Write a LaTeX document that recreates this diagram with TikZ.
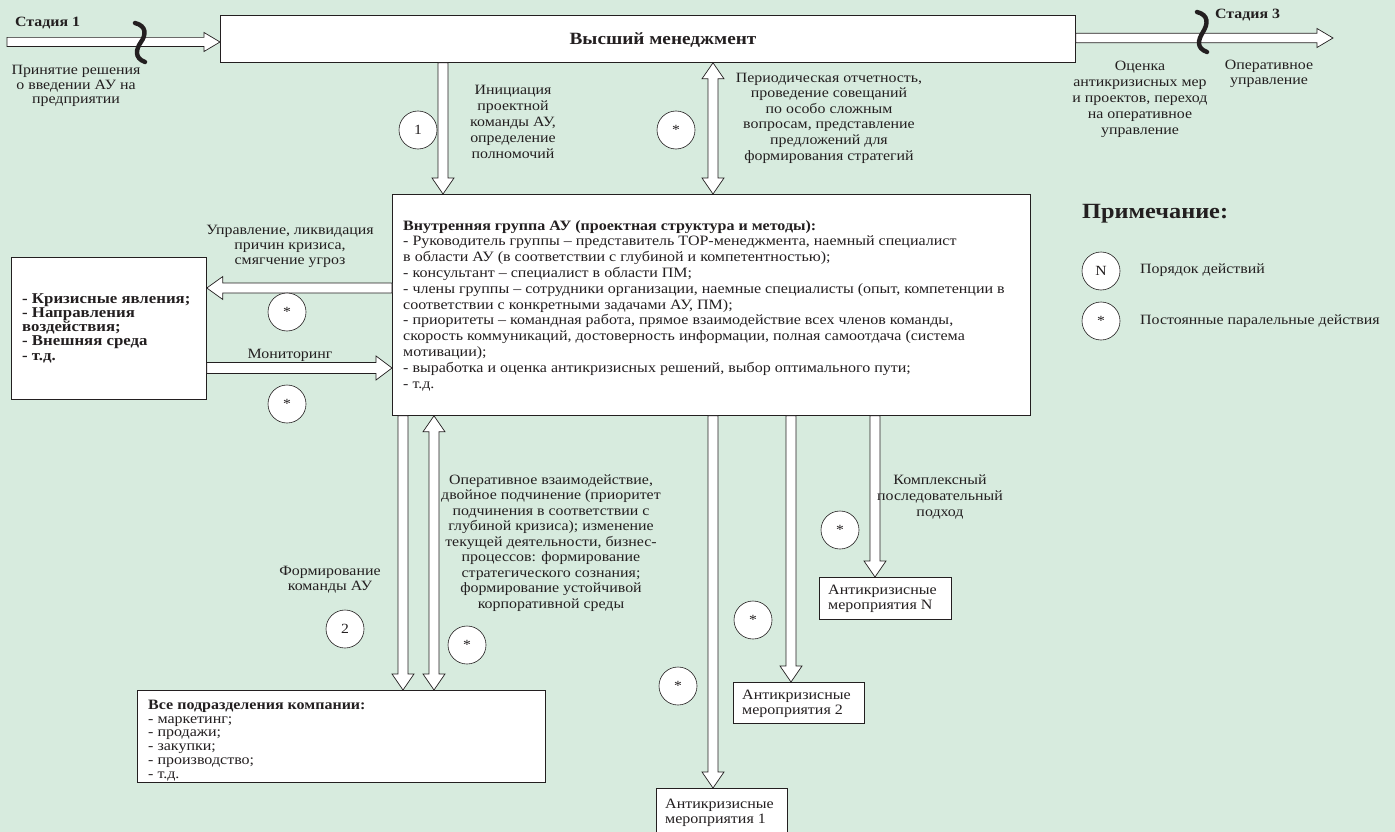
\documentclass[tikz,border=0pt]{standalone}
\usepackage{fontspec}
\setmainfont{Liberation Serif}[FakeStretch=1.12]
\usetikzlibrary{calc}
\definecolor{bg}{RGB}{215,235,222}
\definecolor{ink}{RGB}{35,31,32}
\newcommand\harrow[4]{%
 \coordinate (hs) at ($(#2)!16pt!(#1)$);
 \draw[harrowsty] ($(#1)!#3pt!90:(#2)$) -- ($(hs)!#3pt!90:(#2)$) -- ($(hs)!#4pt!90:(#2)$) -- (#2) -- ($(hs)!#4pt!-90:(#2)$) -- ($(hs)!#3pt!-90:(#2)$) -- ($(#1)!#3pt!-90:(#2)$) -- cycle;}
\newcommand\hdarrow[4]{%
 \coordinate (hs) at ($(#2)!16pt!(#1)$);
 \coordinate (ht) at ($(#1)!16pt!(#2)$);
 \draw[harrowsty] (#1) -- ($(ht)!#4pt!-90:(#2)$) -- ($(ht)!#3pt!-90:(#2)$) -- ($(hs)!#3pt!-90:(#2)$) -- ($(hs)!#4pt!-90:(#2)$) -- (#2) -- ($(hs)!#4pt!90:(#2)$) -- ($(hs)!#3pt!90:(#2)$) -- ($(ht)!#3pt!90:(#2)$) -- ($(ht)!#4pt!90:(#2)$) -- cycle;}
\begin{document}
\begin{tikzpicture}[x=1pt,y=-1pt,
  box/.style={draw=ink, fill=white, line width=0.8pt, inner sep=0, anchor=north west},
  lbl/.style={font=\fontsize{14.2}{15}\selectfont, align=center, inner sep=0, text=ink},
  txt/.style={font=\fontsize{14.3}{15}\selectfont, align=left, inner sep=0, anchor=north west, text=ink},
  circ/.style={circle, draw=ink, fill=white, minimum size=38pt, inner sep=0, line width=0.6pt, font=\fontsize{14}{14}\selectfont, text=ink},
  harrowsty/.style={draw=ink, fill=white, line width=0.7pt, line join=miter},
  brace/.style={line width=4.4pt, line cap=round, draw=ink}]
\useasboundingbox (0,0) rectangle (1395,832);
\fill[bg] (0,0) rectangle (1395,832);

% boxes
\node[box, minimum width=855, minimum height=47] (top) at (220,15) {};
\node[font=\fontsize{17.2}{17}\selectfont\bfseries, inner sep=0, text=ink] (toptext) at (663,40) {Высший менеджмент};
\node[box, minimum width=638, minimum height=221] (main) at (392,194) {};
\node[txt, font=\fontsize{14.3}{15.8}\selectfont] (maintext) at (403,220) {\textbf{Внутренняя группа АУ (проектная структура и методы):}\\
- Руководитель группы – представитель ТОР-менеджмента, наемный специалист\\
в области АУ (в соответствии с глубиной и компетентностью);\\
- консультант – специалист в области ПМ;\\
- члены группы – сотрудники организации, наемные специалисты (опыт, компетенции в\\
соответствии с конкретными задачами АУ, ПМ);\\
- приоритеты – командная работа, прямое взаимодействие всех членов команды,\\
скорость коммуникаций, достоверность информации, полная самоотдача (система\\
мотивации);\\
- выработка и оценка антикризисных решений, выбор оптимального пути;\\
- т.д.};
\node[box, minimum width=195, minimum height=142] (left) at (11,257) {};
\node[txt, font=\fontsize{15}{14.3}\selectfont\bfseries] (lefttext) at (22,293) {- Кризисные явления;\\
- Направления\\
воздействия;\\
- Внешняя среда\\
- т.д.};
\node[box, minimum width=408, minimum height=92] (sub) at (137,690) {};
\node[txt, font=\fontsize{14.3}{13.7}\selectfont] (subtext) at (148,700) {\textbf{Все подразделения компании:}\\
- маркетинг;\\
- продажи;\\
- закупки;\\
- производство;\\
- т.д.};
\node[box, minimum width=131, minimum height=60] (m1) at (656,788) {};
\node[txt] (m1text) at (665,799) {Антикризисные\\мероприятия 1};
\node[box, minimum width=131, minimum height=41] (m2) at (733,682) {};
\node[txt] (m2text) at (742,690) {Антикризисные\\мероприятия 2};
\node[box, minimum width=132, minimum height=42] (mN) at (819,577) {};
\node[txt] (mNtext) at (828,585) {Антикризисные\\мероприятия N};

% coordinates
\coordinate (s1) at (7,42);
\coordinate (s3) at (1333,38);
\coordinate (x443) at (443,0);
\coordinate (x713) at (713,0);
\coordinate (x403) at (403,0);
\coordinate (x434) at (434,0);
\coordinate (x791) at (791,0);
\coordinate (x875) at (875,0);
\coordinate (y288) at (0,288);
\coordinate (y368) at (0,368);

% arrows
\harrow{s1}{top.west |- s1}{4.6}{9.5}
\harrow{top.east |- s3}{s3}{4.8}{9.5}
\harrow{top.south -| x443}{main.north -| x443}{5}{11}
\hdarrow{top.south -| x713}{main.north -| x713}{5}{11}
\harrow{main.west |- y288}{left.east |- y288}{5}{11.5}
\harrow{left.east |- y368}{main.west |- y368}{5.5}{12}
\harrow{main.south -| x403}{sub.north -| x403}{5}{11}
\hdarrow{main.south -| x434}{sub.north -| x434}{5}{11}
\harrow{main.south -| x713}{m1.north -| x713}{5}{11}
\harrow{main.south -| x791}{m2.north -| x791}{5}{11}
\harrow{main.south -| x875}{mN.north -| x875}{5}{11}

% braces
\draw[brace] (135,23) .. controls (147,26) and (146,35) .. (141,42) .. controls (136,49) and (134,58) .. (145,62);
\draw[brace] (1197,12) .. controls (1209,15) and (1208,24) .. (1203,32) .. controls (1198,40) and (1196,48) .. (1207,52);

% stage labels
\node[font=\fontsize{14.2}{14}\selectfont\bfseries, anchor=west, inner sep=0, text=ink] (st1) at (15,23) {Стадия 1};
\node[font=\fontsize{14.2}{14}\selectfont\bfseries, anchor=west, inner sep=0, text=ink] (st3) at (1215,15) {Стадия 3};
\node[lbl, font=\fontsize{14.2}{14.2}\selectfont] (l1) at (76,86) {Принятие решения\\о введении АУ на\\предприятии};
\node[lbl, font=\fontsize{14.2}{16}\selectfont] (l3a) at (1140,99) {Оценка\\антикризисных мер\\и проектов, переход\\на оперативное\\управление};
\node[lbl] (l3b) at (1269,74) {Оперативное\\управление};
\node[lbl, font=\fontsize{14.2}{16}\selectfont] (lini) at (513,122) {Инициация\\проектной\\команды АУ,\\определение\\полномочий};
\node[lbl, font=\fontsize{14.2}{15.6}\selectfont] (lper) at (829,118) {Периодическая отчетность,\\проведение совещаний\\по особо сложным\\вопросам, представление\\предложений для\\формирования стратегий};
\node[lbl] (lupr) at (290,246) {Управление, ликвидация\\причин кризиса,\\смягчение угроз};
\node[lbl] (lmon) at (290,355) {Мониторинг};
\node[lbl] (lform) at (330,580) {Формирование\\команды АУ};
\node[lbl, font=\fontsize{14.2}{15.5}\selectfont] (loper) at (551,543) {Оперативное взаимодействие,\\двойное подчинение (приоритет\\подчинения в соответствии с\\глубиной кризиса); изменение\\текущей деятельности, бизнес-\\процессов: формирование\\стратегического сознания;\\формирование устойчивой\\корпоративной среды};
\node[lbl, font=\fontsize{14.2}{16}\selectfont] (lkom) at (940,497) {Комплексный\\последовательный\\подход};

% circles
\node[circ] (c1) at (418,130) {1};
\node[circ] (cs1) at (676,130) {*};
\node[circ] (cs2) at (287,312) {*};
\node[circ] (cs3) at (287,404) {*};
\node[circ] (c2) at (345,629) {2};
\node[circ] (cs4) at (467,645) {*};
\node[circ] (cs5) at (678,686) {*};
\node[circ] (cs6) at (753,620) {*};
\node[circ] (cs7) at (840,530) {*};

% note
\node[font=\fontsize{21.7}{22}\selectfont\bfseries, anchor=west, inner sep=0, text=ink] (note) at (1082,214) {Примечание:};
\node[circ] (cn) at (1101,271) {N};
\node[circ] (cst) at (1101,321) {*};
\node[lbl, anchor=west] (tn) at (1140,270) {Порядок действий};
\node[lbl, anchor=west] (tst) at (1140,321) {Постоянные паралельные действия};
\end{tikzpicture}
\end{document}
